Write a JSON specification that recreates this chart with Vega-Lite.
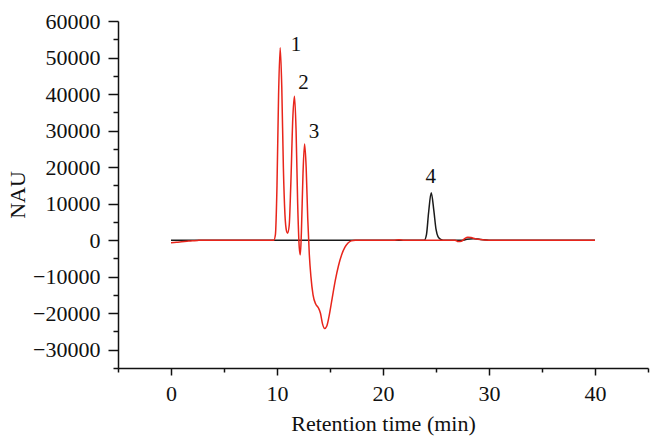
{
  "$schema": "https://vega.github.io/schema/vega-lite/v6.json",
  "width": 530,
  "height": 347,
  "autosize": "none",
  "padding": {"left": 118, "top": 21, "right": 14, "bottom": 80},
  "background": "white",
  "config": {
    "view": {"stroke": null},
    "font": "Liberation Serif",
    "axis": {"grid": false, "domainColor": "#111", "tickColor": "#111", "domainWidth": 1.5, "tickWidth": 1.5, "labelColor": "#111", "titleColor": "#111", "labelFont": "Liberation Serif", "titleFont": "Liberation Serif", "labelFontSize": 22, "titleFontSize": 22, "titleFontWeight": "normal"}
  },
  "datasets": {
    "black": [
      {"t": 0, "v": 0}, {"t": 10, "v": 0}, {"t": 20, "v": 0}, {"t": 23.9, "v": 0},
      {"t": 24.1, "v": 1500}, {"t": 24.3, "v": 7500}, {"t": 24.55, "v": 13000},
      {"t": 24.8, "v": 8000}, {"t": 25.0, "v": 3000}, {"t": 25.2, "v": 900},
      {"t": 25.5, "v": 150}, {"t": 25.8, "v": 0}, {"t": 27.5, "v": 0},
      {"t": 27.9, "v": 250}, {"t": 28.5, "v": 400}, {"t": 29.2, "v": 200},
      {"t": 30, "v": 0}, {"t": 40, "v": 0}
    ],
    "red": [
      {"t": 0, "v": -700}, {"t": 0.5, "v": -600}, {"t": 1, "v": -450}, {"t": 1.5, "v": -300},
      {"t": 2, "v": -150}, {"t": 2.5, "v": -60}, {"t": 3, "v": 0}, {"t": 9.7, "v": 0},
      {"t": 9.85, "v": 1500}, {"t": 10.0, "v": 15000}, {"t": 10.15, "v": 40000},
      {"t": 10.3, "v": 52700}, {"t": 10.45, "v": 42000}, {"t": 10.6, "v": 20000},
      {"t": 10.75, "v": 7000}, {"t": 10.9, "v": 2500}, {"t": 11.0, "v": 1900},
      {"t": 11.15, "v": 4000}, {"t": 11.3, "v": 15000}, {"t": 11.5, "v": 34000},
      {"t": 11.65, "v": 39400}, {"t": 11.8, "v": 30000}, {"t": 11.95, "v": 10000},
      {"t": 12.1, "v": -2000}, {"t": 12.2, "v": -4000}, {"t": 12.3, "v": 2000},
      {"t": 12.45, "v": 18000}, {"t": 12.6, "v": 26300}, {"t": 12.75, "v": 20000},
      {"t": 12.9, "v": 6000}, {"t": 13.05, "v": -4000}, {"t": 13.2, "v": -10000},
      {"t": 13.4, "v": -15000}, {"t": 13.65, "v": -17500}, {"t": 13.9, "v": -18500},
      {"t": 14.1, "v": -20000}, {"t": 14.3, "v": -23000}, {"t": 14.5, "v": -24200},
      {"t": 14.7, "v": -23500}, {"t": 14.9, "v": -21000}, {"t": 15.2, "v": -16000},
      {"t": 15.5, "v": -11000}, {"t": 15.8, "v": -7000}, {"t": 16.1, "v": -4000},
      {"t": 16.4, "v": -2000}, {"t": 16.7, "v": -800}, {"t": 17.0, "v": -200},
      {"t": 17.4, "v": 0}, {"t": 21, "v": 0}, {"t": 21.5, "v": 100}, {"t": 22, "v": 0},
      {"t": 26.8, "v": 0}, {"t": 27.1, "v": -400}, {"t": 27.4, "v": -300},
      {"t": 27.7, "v": 400}, {"t": 28.0, "v": 800}, {"t": 28.3, "v": 700},
      {"t": 28.7, "v": 400}, {"t": 29.2, "v": 150}, {"t": 30, "v": 0}, {"t": 40, "v": 0}
    ],
    "labels": [
      {"t": 11.8, "v": 53500, "label": "1"},
      {"t": 12.5, "v": 43000, "label": "2"},
      {"t": 13.5, "v": 29500, "label": "3"},
      {"t": 24.5, "v": 17300, "label": "4"}
    ]
  },
  "encoding": {
    "x": {
      "field": "t", "type": "quantitative",
      "scale": {"domain": [-5, 45], "nice": false, "zero": false},
      "axis": {
        "title": "Retention time (min)",
        "values": [-5, 0, 5, 10, 15, 20, 25, 30, 35, 40, 45],
        "labelExpr": "datum.value % 10 === 0 ? datum.label : ''",
        "labelOverlap": false,
        "labelFlush": false,
        "tickSize": {"condition": {"test": "datum.value % 10 === 0", "value": 7}, "value": 4},
        "labelPadding": 8,
        "titlePadding": 9
      }
    },
    "y": {
      "field": "v", "type": "quantitative",
      "scale": {"domain": [-35000, 60000], "nice": false, "zero": false},
      "axis": {
        "title": "NAU",
        "format": "d",
        "values": [-35000, -30000, -25000, -20000, -15000, -10000, -5000, 0, 5000, 10000, 15000, 20000, 25000, 30000, 35000, 40000, 45000, 50000, 55000, 60000],
        "labelExpr": "datum.value % 10000 === 0 ? datum.label : ''",
        "labelOverlap": false,
        "labelFlush": false,
        "tickSize": {"condition": {"test": "datum.value % 10000 === 0", "value": 10}, "value": 5},
        "labelPadding": 8,
        "titlePadding": 3
      }
    }
  },
  "layer": [
    {"data": {"name": "black"}, "mark": {"type": "line", "color": "#1a1a1a", "strokeWidth": 1.5, "interpolate": "monotone"}},
    {"data": {"name": "red"}, "mark": {"type": "line", "color": "#e8251b", "strokeWidth": 1.5, "interpolate": "monotone"}},
    {"data": {"name": "labels"}, "mark": {"type": "text", "font": "Liberation Serif", "fontSize": 21, "color": "#111", "baseline": "middle", "align": "center"}, "encoding": {"text": {"field": "label"}}}
  ]
}
